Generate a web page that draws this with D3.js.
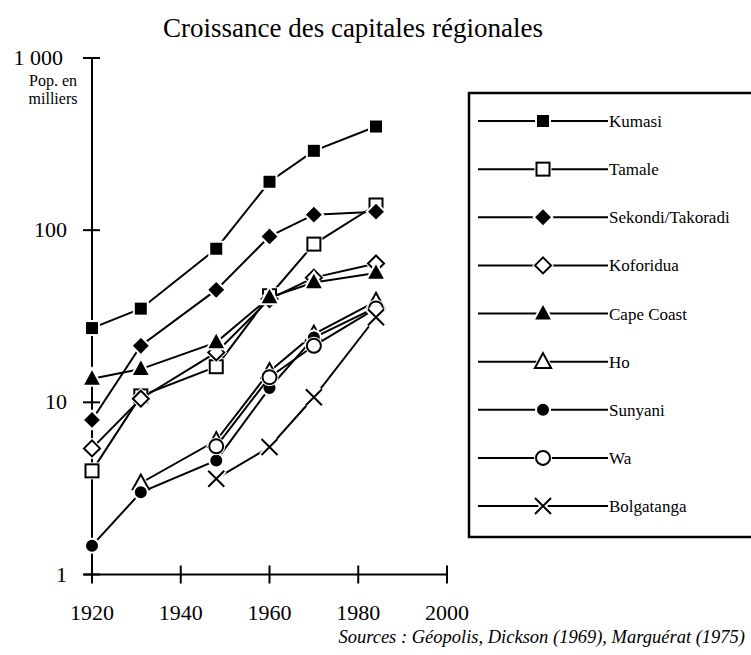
<!DOCTYPE html>
<html>
<head>
<meta charset="utf-8">
<script src="https://cdn.jsdelivr.net/npm/d3@7"></script>
<style>
    body { margin: 0; background: #fff; }
    svg { display: block; font-family: "Liberation Serif", "Times New Roman", serif; }
</style>
</head>
<body>
<svg id="chart" width="751" height="655"></svg>
<script>
// census years (x axis)
var years = [1920, 1931, 1948, 1960, 1970, 1984];

// population in thousands (null = no data)
var kumasi     = [27, 35, 78, 191, 289, 400];
var tamale     = [4.0, 10.9, 16.1, 41.6, 83, 140];
var sekondi    = [7.9, 21.3, 45, 92, 123, 128];
var koforidua  = [5.4, 10.5, 19.5, 39.8, 53, 64];
var capeCoast  = [13.7, 15.6, 22.3, 40.7, 49.7, 56.4];
var ho         = [null, 3.4, 6.0, 15.1, 24.9, 38.6];
var sunyani    = [1.47, 3.0, 4.6, 12.1, 23.8, 35.6];
var wa         = [null, null, 5.55, 14.0, 21.3, 35.1];
var bolgatanga = [null, null, 3.6, 5.5, 10.7, 31.2];

var cityNames = ["Kumasi", "Tamale", "Sekondi/Takoradi", "Koforidua", "Cape Coast",
                 "Ho", "Sunyani", "Wa", "Bolgatanga"];
var cityValues = [kumasi, tamale, sekondi, koforidua, capeCoast, ho, sunyani, wa, bolgatanga];

var xTicks = [1920, 1940, 1960, 1980, 2000];
var yTicks = [1, 10, 100, 1000];
var yTickLabels = ["1", "10", "100", "1 000"];

var title = "Croissance des capitales régionales";
var yTitle = ["Pop. en", "milliers"];
var sourceText = "Sources : Géopolis, Dickson (1969), Marguérat (1975)";

// marker style per city, same order as cityNames
var markerKind = ["square", "square", "diamond", "diamond", "triangle", "triangle", "circle", "circle", "cross"];
var markerOpen = [false, true, false, true, false, true, false, true, true];

var svg = d3.select("#chart");

var x = d3.scaleLinear().domain([1920, 2000]).range([92, 447]);
var y = d3.scaleLog().domain([1, 1000]).range([574.5, 58]);

// title
svg.append("text")
    .attr("x", 353).attr("y", 37)
    .attr("text-anchor", "middle")
    .attr("font-size", 27)
    .text(title);

// y axis
svg.append("line")
    .attr("x1", x(1920)).attr("x2", x(1920))
    .attr("y1", y(1000)).attr("y2", y(1) + 8)
    .attr("stroke", "#000").attr("stroke-width", 2);

svg.selectAll(".ytick").data(yTicks).enter()
    .append("line").attr("class", "ytick")
    .attr("x1", x(1920) - 9).attr("x2", x(1920) + 8)
    .attr("y1", function(d){ return y(d); })
    .attr("y2", function(d){ return y(d); })
    .attr("stroke", "#000").attr("stroke-width", 2);

svg.selectAll(".ylabel").data(yTicks).enter()
    .append("text").attr("class", "ylabel")
    .attr("x", function(d){ return d == 1000 ? 63 : 67; })
    .attr("y", function(d){ return y(d) + 7; })
    .attr("text-anchor", "end")
    .attr("font-size", 22)
    .text(function(d, i){ return yTickLabels[i]; });

svg.selectAll(".ytitle").data(yTitle).enter()
    .append("text").attr("class", "ytitle")
    .attr("x", 53)
    .attr("y", function(d, i){ return 86 + i * 18; })
    .attr("text-anchor", "middle")
    .attr("font-size", 16)
    .text(function(d){ return d; });

// x axis
svg.append("line")
    .attr("x1", x(1920) - 8).attr("x2", x(2000))
    .attr("y1", y(1)).attr("y2", y(1))
    .attr("stroke", "#000").attr("stroke-width", 2);

svg.selectAll(".xtick").data(xTicks).enter()
    .append("line").attr("class", "xtick")
    .attr("x1", function(d){ return x(d); })
    .attr("x2", function(d){ return x(d); })
    .attr("y1", y(1) - 9).attr("y2", y(1) + 9)
    .attr("stroke", "#000").attr("stroke-width", 2);

svg.selectAll(".xlabel").data(xTicks).enter()
    .append("text").attr("class", "xlabel")
    .attr("x", function(d){ return x(d); })
    .attr("y", 620)
    .attr("text-anchor", "middle")
    .attr("font-size", 22)
    .text(function(d){ return d; });

svg.append("text")
    .attr("x", 745).attr("y", 643)
    .attr("text-anchor", "end")
    .attr("font-size", 18.5)
    .attr("font-style", "italic")
    .text(sourceText);

// draws one marker centred on 0,0 inside g
function drawMarker(g, kind, open) {
    var fill = open ? "#fff" : "#000";
    var shape;
    if (kind == "square") {
        var s = open ? 13 : 10;
        shape = g.append("rect").attr("x", -s/2).attr("y", -s/2).attr("width", s).attr("height", s);
    } else if (kind == "diamond") {
        var r = open ? 8 : 6.5;
        shape = g.append("path").attr("d", "M0," + (-r) + "L" + r + ",0L0," + r + "L" + (-r) + ",0Z");
    } else if (kind == "triangle") {
        var t = open ? 8.5 : 6.5;
        shape = g.append("path").attr("d", "M0," + (-t) + "L" + (t * 0.95) + "," + (t * 0.75) + "L" + (-t * 0.95) + "," + (t * 0.75) + "Z");
    } else if (kind == "circle") {
        shape = g.append("circle").attr("r", open ? 7 : 5);
    } else {
        var c = 8;
        shape = g.append("path").attr("d", "M" + (-c) + "," + (-c) + "L" + c + "," + c + "M" + c + "," + (-c) + "L" + (-c) + "," + c);
        fill = "none";
    }
    // white halo first so lines stop short of the marker
    shape.attr("fill", fill).attr("stroke", "#000").attr("stroke-width", 2);
    shape.clone().lower()
        .attr("stroke", "#fff")
        .attr("stroke-width", kind == "cross" ? 6 : (open ? 4 : 6))
        .attr("fill", kind == "cross" ? "none" : "#fff");
    return g;
}

var line = d3.line()
    .defined(function(d){ return d.v != null; })
    .x(function(d){ return x(d.year); })
    .y(function(d){ return y(d.v); });

cityValues.forEach(function(vals, i){
    var pts = years.map(function(yr, j){ return {year: yr, v: vals[j]}; });
    var g = svg.append("g").attr("class", "city");
    g.append("path")
        .datum(pts)
        .attr("d", line)
        .attr("fill", "none")
        .attr("stroke", "#000")
        .attr("stroke-width", 2);
    pts.filter(function(d){ return d.v != null; }).forEach(function(d){
        var m = g.append("g").attr("transform", "translate(" + x(d.year) + "," + y(d.v) + ")");
        drawMarker(m, markerKind[i], markerOpen[i]);
    });
});

// legend
drawLegend();

function drawLegend() {
    var lg = svg.append("g").attr("class", "legend");
    lg.append("rect")
        .attr("x", 469).attr("y", 93)
        .attr("width", 300).attr("height", 444)
        .attr("fill", "#fff").attr("stroke", "#000").attr("stroke-width", 2.5);

    var rowY = d3.scalePoint().domain(cityNames).range([121, 506]);

    cityNames.forEach(function(name, i){
        var row = lg.append("g").attr("transform", "translate(0," + rowY(name) + ")");
        row.append("line")
            .attr("x1", 478).attr("x2", 608)
            .attr("y1", 0).attr("y2", 0)
            .attr("stroke", "#000").attr("stroke-width", 2);
        var m = row.append("g").attr("transform", "translate(543,0)");
        drawMarker(m, markerKind[i], markerOpen[i]);
        row.append("text")
            .attr("x", 609).attr("y", 6)
            .attr("font-size", 17)
            .text(name);
    });
}
</script>
</body>
</html>
